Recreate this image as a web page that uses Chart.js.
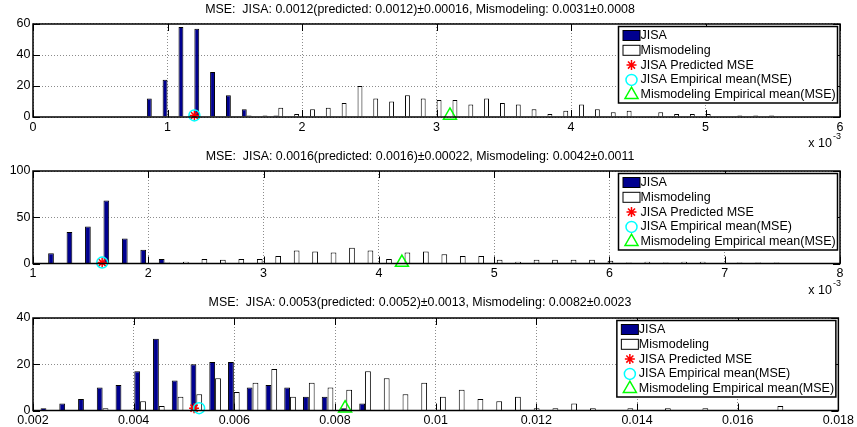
<!DOCTYPE html>
<html>
<head>
<meta charset="utf-8">
<script src="https://cdn.jsdelivr.net/npm/chart.js@4.4.0/dist/chart.umd.min.js"></script>
<style>
  html, body { margin: 0; padding: 0; background: #fff; }
  #wrap { position: relative; width: 857px; height: 427px; }
  #wrap canvas { position: absolute; left: 0; top: 0; }
</style>
</head>
<body>
<div id="wrap">
  <canvas id="c1" width="857" height="427"></canvas>
  <canvas id="c2" width="857" height="427"></canvas>
  <canvas id="c3" width="857" height="427"></canvas>
</div>
<script>
const legendLabels = ['JISA', 'Mismodeling', 'JISA Predicted MSE', 'JISA Empirical mean(MSE)', 'Mismodeling Empirical mean(MSE)'];

// panel 1 (x in units of 1e-3)
const title1 = 'MSE:  JISA: 0.0012(predicted: 0.0012)\u00b10.00016, Mismodeling: 0.0031\u00b10.0008';
const bins1 = [0.883, 1.000, 1.118, 1.236, 1.353, 1.471, 1.589, 1.707, 1.824, 1.942, 2.060, 2.177, 2.295, 2.413, 2.530, 2.648, 2.766, 2.883, 3.001, 3.119,
  3.237, 3.354, 3.472, 3.590, 3.707, 3.825, 3.943, 4.060, 4.178, 4.296, 4.414, 4.531, 4.649, 4.767, 4.884, 5.002, 5.120, 5.237, 5.355, 5.473];
const jisa1 = [12, 24, 58, 57, 29, 14, 5, 0, 1, 0, 0, 0, 0, 0, 0, 0, 0, 0, 0, 0, 0, 0, 0, 0, 0, 0, 0, 0, 0, 0, 0, 0, 0, 0, 0, 0, 0, 0, 0, 0];
const mism1 = [0, 0, 0, 0, 0, 0, 1, 1, 6, 2, 5, 6, 9, 20, 12, 10, 14, 12, 11, 11, 8, 12, 9, 8, 5, 2, 4, 8, 5, 3, 4, 0, 3, 2, 2, 2, 0, 1, 1, 1];
const means1 = [1.2, 1.2, 3.1]; // predicted, JISA empirical, mismodeling empirical
const xTicks1 = [0, 6, 1];
const yTicks1 = [0, 60, 20];

// panel 2 (x in units of 1e-3)
const title2 = 'MSE:  JISA: 0.0016(predicted: 0.0016)\u00b10.00022, Mismodeling: 0.0042\u00b10.0011';
const bins2 = [1.181, 1.341, 1.501, 1.661, 1.821, 1.981, 2.141, 2.301, 2.462, 2.622, 2.782, 2.942, 3.102, 3.262, 3.422, 3.582, 3.742, 3.902, 4.063, 4.223,
  4.383, 4.543, 4.703, 4.863, 5.023, 5.183, 5.343, 5.503, 5.664, 5.824, 5.984, 6.144, 6.304, 6.464, 6.624, 6.784, 6.944, 7.104, 7.265, 7.425];
const jisa2 = [11, 34, 40, 68, 27, 15, 5, 0, 0, 0, 0, 0, 0, 0, 0, 0, 0, 0, 0, 0, 0, 0, 0, 0, 0, 0, 0, 0, 0, 0, 0, 0, 0, 0, 0, 0, 0, 0, 0, 0];
const mism2 = [0, 0, 0, 0, 0, 0, 1, 2, 5, 4, 5, 5, 8, 14, 13, 12, 17, 14, 5, 12, 13, 10, 8, 8, 4, 2, 4, 4, 4, 4, 3, 1, 2, 1, 2, 2, 0, 1, 1, 1];
const means2 = [1.6, 1.6, 4.2];
const xTicks2 = [1, 8, 1];
const yTicks2 = [0, 100, 50];

// panel 3
const title3 = 'MSE:  JISA: 0.0053(predicted: 0.0052)\u00b10.0013, Mismodeling: 0.0082\u00b10.0023';
const bins3 = [0.002266, 0.002638, 0.003011, 0.003383, 0.003756, 0.004128, 0.004500, 0.004873, 0.005245, 0.005618, 0.005990, 0.006362, 0.006735, 0.007107,
  0.007480, 0.007852, 0.008224, 0.008597, 0.008969, 0.009342, 0.009714, 0.010086, 0.010459, 0.010831, 0.011204, 0.011576, 0.011948, 0.012321,
  0.012693, 0.013066, 0.013438, 0.013810, 0.014183, 0.014555, 0.014928, 0.015300, 0.015672, 0.016045, 0.016417, 0.016790];
const jisa3 = [1, 3, 5, 10, 11, 17, 31, 13, 20, 21, 21, 10, 11, 10, 6, 6, 1, 3, 0, 0, 0, 0, 0, 0, 0, 0, 0, 0, 0, 0, 0, 0, 0, 0, 0, 0, 0, 0, 0, 0];
const mism3 = [0, 0, 0, 1, 0, 4, 2, 6, 7, 14, 8, 12, 18, 6, 12, 10, 9, 17, 14, 7, 12, 6, 9, 5, 4, 6, 1, 1, 3, 1, 0, 1, 0, 1, 0, 1, 0, 0, 0, 2];
const means3 = [0.0052, 0.0053, 0.0082];
const xTicks3 = [0.002, 0.018, 0.002];
const yTicks3 = [0, 40, 20];

const markY = 1;

const FONT = '"Liberation Sans", Arial, Helvetica, sans-serif';
const NAVY = '#00008f';

// MATLAB style box with inward tick marks
const matlabFrame = {
  id: 'matlabFrame',
  afterDatasetsDraw(chart) {
    const {ctx, chartArea: a} = chart;
    const xs = chart.scales.x, ys = chart.scales.y;
    const tl = 7;
    ctx.save();
    ctx.strokeStyle = '#000';
    ctx.lineWidth = 1;
    ctx.beginPath();
    xs.ticks.forEach(t => {
      const px = Math.round(xs.getPixelForValue(t.value)) + 0.5;
      ctx.moveTo(px, a.top); ctx.lineTo(px, a.top + tl);
      ctx.moveTo(px, a.bottom); ctx.lineTo(px, a.bottom - tl);
    });
    ys.ticks.forEach(t => {
      const py = Math.round(ys.getPixelForValue(t.value)) + 0.5;
      ctx.moveTo(a.left, py); ctx.lineTo(a.left + tl, py);
      ctx.moveTo(a.right, py); ctx.lineTo(a.right - tl, py);
    });
    ctx.stroke();
    ctx.lineWidth = 1.5;
    ctx.strokeRect(a.left, a.top, a.right - a.left, a.bottom - a.top);
    ctx.restore();
  }
};

function drawSymbol(ctx, ds, cx, cy) {
  ctx.save();
  ctx.lineWidth = 1.5;
  ctx.strokeStyle = ds.borderColor;
  if (!ds.pointStyle) {
    ctx.fillStyle = ds.backgroundColor;
    ctx.fillRect(cx - 8.5, cy - 5, 17, 10);
    ctx.lineWidth = 1;
    ctx.strokeStyle = '#000';
    ctx.strokeRect(cx - 8.5, cy - 5, 17, 10);
  } else if (ds.pointStyle === 'circle') {
    ctx.beginPath();
    ctx.arc(cx, cy, ds.pointRadius, 0, Math.PI * 2);
    ctx.stroke();
  } else if (ds.pointStyle === 'triangle') {
    const r = ds.pointRadius;
    ctx.beginPath();
    ctx.moveTo(cx, cy - r);
    ctx.lineTo(cx + r * Math.sin(2 * Math.PI / 3), cy + r / 2);
    ctx.lineTo(cx - r * Math.sin(2 * Math.PI / 3), cy + r / 2);
    ctx.closePath();
    ctx.stroke();
  } else if (ds.pointStyle === 'star') {
    const r = ds.pointRadius;
    ctx.beginPath();
    for (let k = 0; k < 4; k++) {
      const ang = k * Math.PI / 4;
      ctx.moveTo(cx - r * Math.cos(ang), cy - r * Math.sin(ang));
      ctx.lineTo(cx + r * Math.cos(ang), cy + r * Math.sin(ang));
    }
    ctx.stroke();
  }
  ctx.restore();
}

const boxLegend = {
  id: 'boxLegend',
  afterDraw(chart) {
    const {ctx, chartArea: a} = chart;
    const w = 219, h = 76.5;
    const x0 = a.right - 2.5 - w, y0 = a.top + 2.5;
    ctx.save();
    ctx.fillStyle = '#fff';
    ctx.fillRect(x0, y0, w, h);
    ctx.lineWidth = 1.5;
    ctx.strokeStyle = '#000';
    ctx.strokeRect(x0, y0, w, h);
    ctx.font = '12.5px ' + FONT;
    ctx.textBaseline = 'middle';
    ctx.textAlign = 'left';
    chart.data.datasets.forEach((ds, i) => {
      const cy = y0 + 9 + i * 14.8;
      drawSymbol(ctx, ds, x0 + 13, cy);
      ctx.fillStyle = '#000';
      ctx.fillText(ds.label, x0 + 22, cy);
    });
    ctx.restore();
  }
};

const expLabel = {
  id: 'expLabel',
  afterDraw(chart, args, opts) {
    if (!opts.sup) return;
    const {ctx, chartArea: a} = chart;
    ctx.save();
    ctx.fillStyle = '#000';
    ctx.textBaseline = 'middle';
    ctx.textAlign = 'right';
    ctx.font = '12.5px ' + FONT;
    ctx.fillText('x 10', a.right - 8, a.bottom + 27);
    ctx.textAlign = 'left';
    ctx.font = '9px ' + FONT;
    ctx.fillText(opts.sup, a.right - 7, a.bottom + 20);
    ctx.restore();
  }
};

function makePanel(id, p) {
  const datasets = [
    {label: legendLabels[0], data: p.jisa, backgroundColor: NAVY, borderColor: '#000', borderWidth: 1,
      categoryPercentage: 0.62, barPercentage: 1.0, order: 1},
    {label: legendLabels[1], data: p.mism, backgroundColor: '#fff', borderColor: '#000', borderWidth: 1,
      categoryPercentage: 0.62, barPercentage: 1.0, order: 1},
    {type: 'scatter', label: legendLabels[2], data: [{x: p.means[0], y: markY}], pointStyle: 'star', pointRadius: 5,
      borderColor: '#ff0000', backgroundColor: 'rgba(0,0,0,0)', pointBorderWidth: 1.5, clip: false, order: 0},
    {type: 'scatter', label: legendLabels[3], data: [{x: p.means[1], y: markY}], pointStyle: 'circle', pointRadius: 5.5,
      borderColor: '#00ffff', backgroundColor: 'rgba(0,0,0,0)', pointBorderWidth: 1.5, clip: false, order: -1},
    {type: 'scatter', label: legendLabels[4], data: [{x: p.means[2], y: markY}], pointStyle: 'triangle', pointRadius: 7.5,
      borderColor: '#00ff00', backgroundColor: 'rgba(0,0,0,0)', pointBorderWidth: 1.5, clip: false, order: 0}
  ];
  const tickFont = {family: FONT, size: 12.5};
  return new Chart(document.getElementById(id), {
    type: 'bar',
    data: {labels: p.bins, datasets: datasets},
    options: {
      responsive: false,
      animation: false,
      events: [],
      layout: {padding: {top: p.padTop, bottom: p.padBottom, left: 0, right: 17}},
      plugins: {
        legend: {display: false},
        tooltip: {enabled: false},
        title: {display: true, text: p.title, color: '#000', font: {family: FONT, size: 12.4, weight: 'normal'},
          padding: {top: 0, bottom: p.titleGap}},
        expLabel: {sup: p.sup}
      },
      scales: {
        x: {
          type: 'linear', min: p.xTicks[0], max: p.xTicks[1], offset: false,
          afterFit(s) { s.height = 16; },
          grid: {offset: false, drawTicks: false, color: '#8c8c8c', lineWidth: 1},
          border: {display: false, dash: [1, 2]},
          ticks: {stepSize: p.xTicks[2], padding: 3, color: '#000', font: tickFont, maxRotation: 0, autoSkip: false,
            callback: v => String(+v.toFixed(6))}
        },
        y: {
          min: p.yTicks[0], max: p.yTicks[1],
          afterFit(s) { s.width = 33; },
          grid: {drawTicks: false, color: '#8c8c8c', lineWidth: 1},
          border: {display: false, dash: [1, 2]},
          ticks: {stepSize: p.yTicks[2], padding: 2.5, color: '#000', font: tickFont}
        }
      }
    },
    plugins: [matlabFrame, boxLegend, expLabel]
  });
}

makePanel('c1', {title: title1, bins: bins1, jisa: jisa1, mism: mism1, means: means1, xTicks: xTicks1, yTicks: yTicks1,
  padTop: 2.56, titleGap: 6.56, padBottom: 294, sup: '-3'});
makePanel('c2', {title: title2, bins: bins2, jisa: jisa2, mism: mism2, means: means2, xTicks: xTicks2, yTicks: yTicks2,
  padTop: 149.56, titleGap: 6.56, padBottom: 147.5, sup: '-3'});
makePanel('c3', {title: title3, bins: bins3, jisa: jisa3, mism: mism3, means: means3, xTicks: xTicks3, yTicks: yTicks3,
  padTop: 295.56, titleGap: 7.56, padBottom: 0.5, sup: ''});
</script>
</body>
</html>
